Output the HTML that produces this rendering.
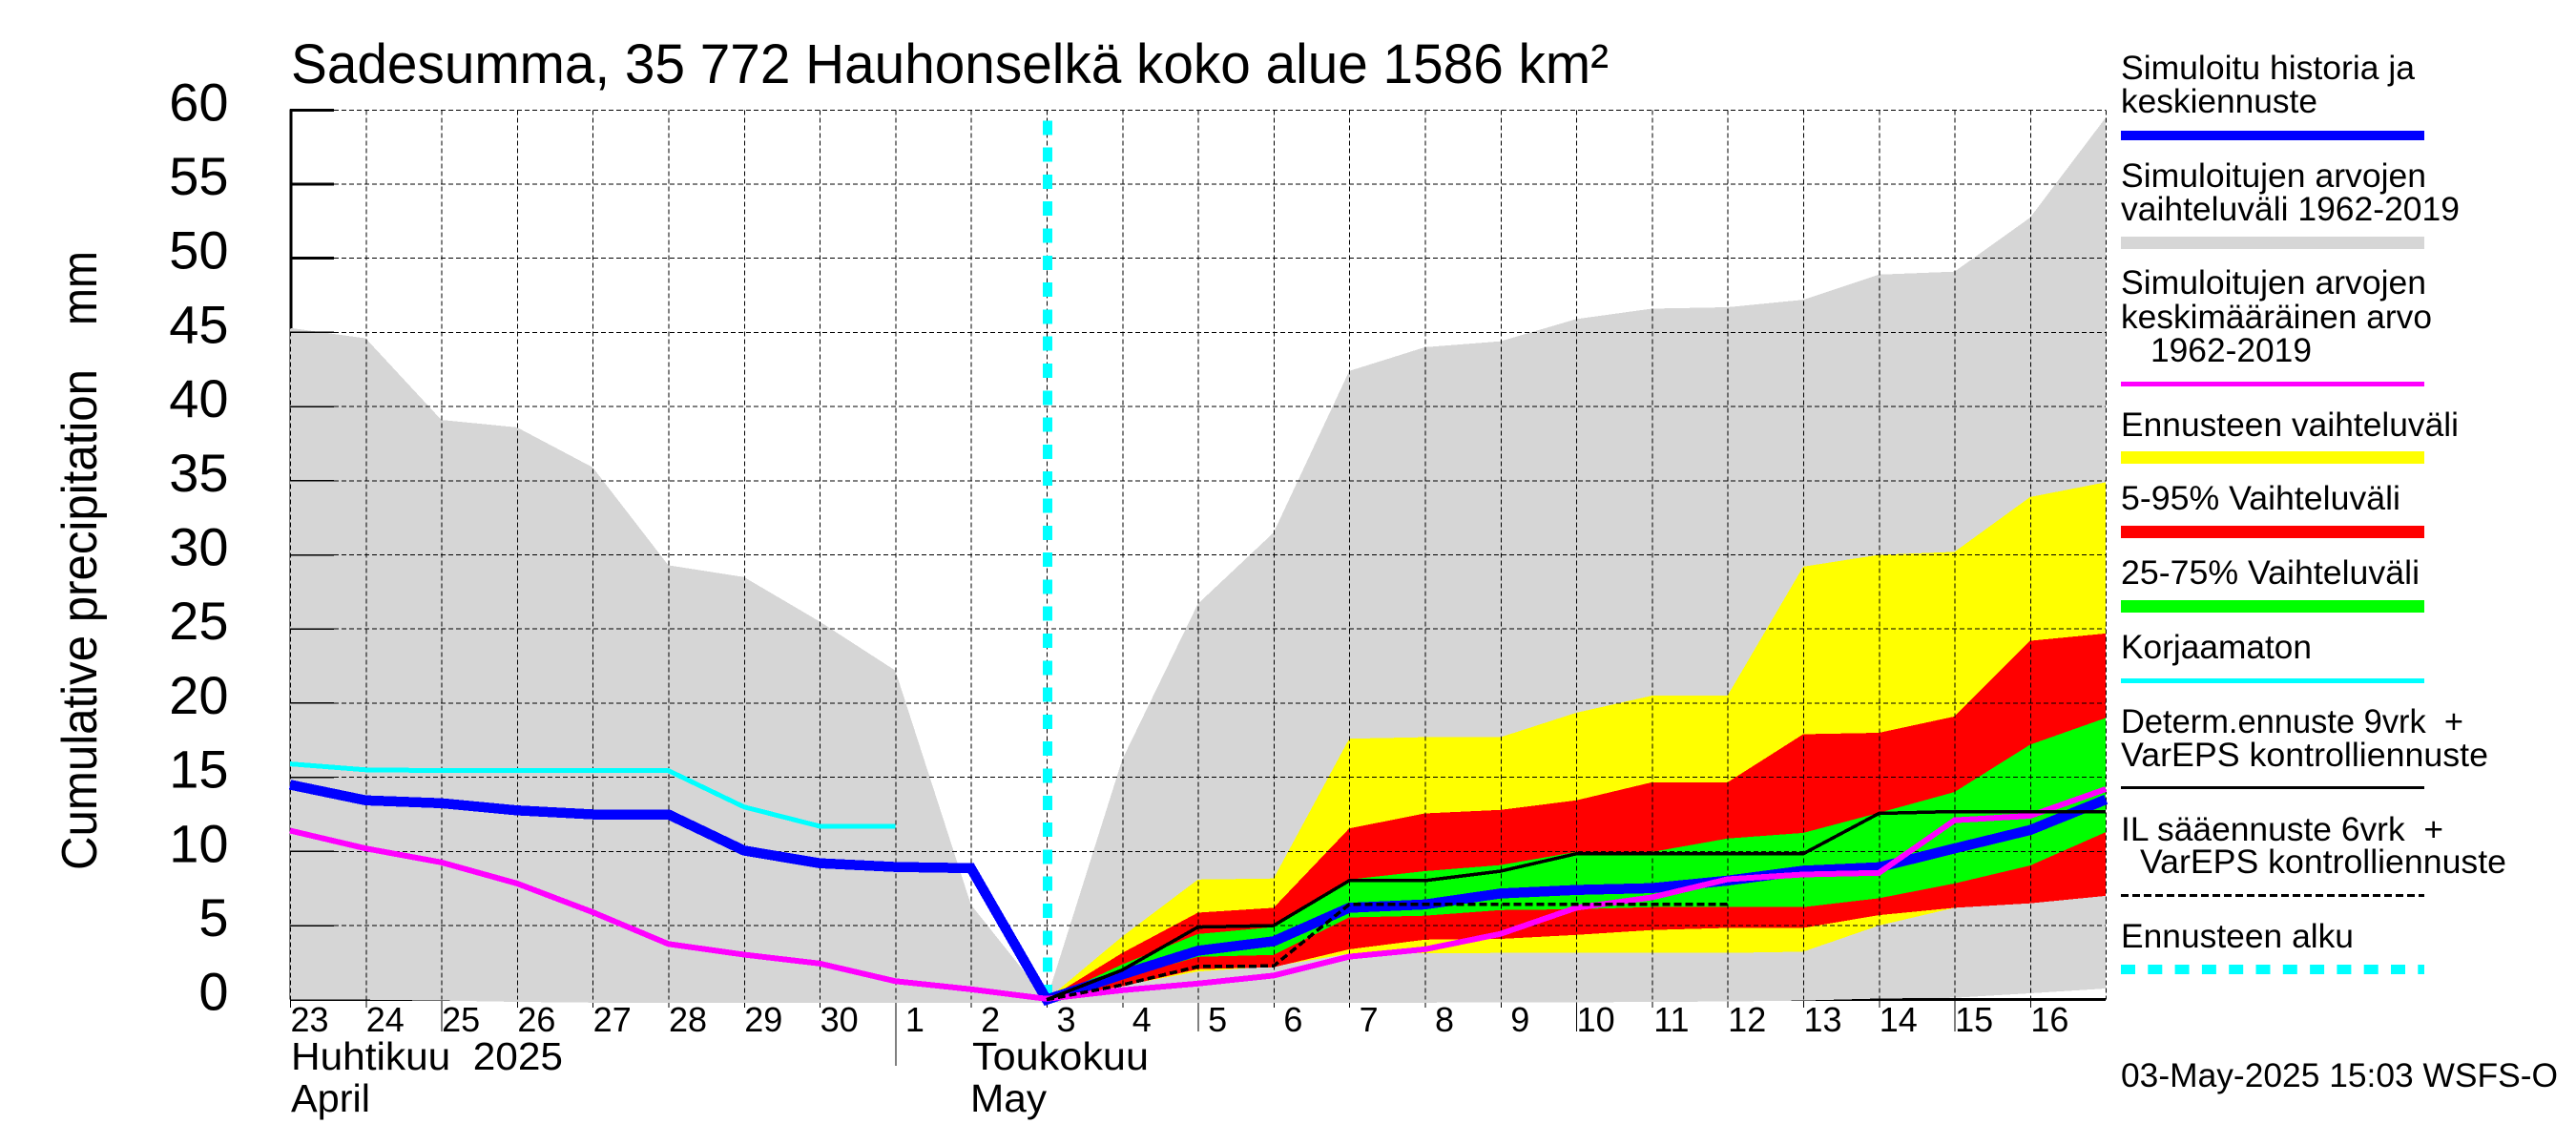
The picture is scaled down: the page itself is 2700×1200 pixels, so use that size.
<!DOCTYPE html>
<html>
<head>
<meta charset="utf-8">
<title>Sadesumma chart</title>
<style>
html,body{margin:0;padding:0;background:#fff;}
svg{display:block;}
text{font-family:"Liberation Sans",Arial,sans-serif;fill:#000;white-space:pre;}
.leg{font-size:35px;}
</style>
</head>
<body>
<svg id="chart" xmlns="http://www.w3.org/2000/svg" width="2700" height="1200" viewBox="0 0 2700 1200">
<rect x="0" y="0" width="2700" height="1200" fill="#fff"/>
<g id="plot"></g>
<text x="305" y="87" font-size="58" textLength="1381" lengthAdjust="spacingAndGlyphs">Sadesumma, 35 772 Hauhonselkä koko alue 1586 km²</text>
<text transform="translate(101,912) rotate(-90)" font-size="52" textLength="525" lengthAdjust="spacingAndGlyphs">Cumulative precipitation</text>
<text transform="translate(101,341) rotate(-90)" font-size="52" textLength="78" lengthAdjust="spacingAndGlyphs">mm</text>
<text x="305" y="1121" font-size="41" textLength="285" lengthAdjust="spacingAndGlyphs">Huhtikuu  2025</text>
<text x="305" y="1165" font-size="41" textLength="83" lengthAdjust="spacingAndGlyphs">April</text>
<text x="1019" y="1121" font-size="41" textLength="185" lengthAdjust="spacingAndGlyphs">Toukokuu</text>
<text x="1017" y="1165" font-size="41" textLength="80" lengthAdjust="spacingAndGlyphs">May</text>

<g>
<text class="leg" x="2223" y="83" textLength="308" lengthAdjust="spacingAndGlyphs">Simuloitu historia ja</text>
<text class="leg" x="2223" y="118" textLength="206" lengthAdjust="spacingAndGlyphs">keskiennuste</text>
<rect x="2223" y="137" width="318" height="10" fill="#0000ff"/>

<text class="leg" x="2223" y="196" textLength="320" lengthAdjust="spacingAndGlyphs">Simuloitujen arvojen</text>
<text class="leg" x="2223" y="231" textLength="355" lengthAdjust="spacingAndGlyphs">vaihteluväli 1962-2019</text>
<rect x="2223" y="248" width="318" height="13" fill="#d6d6d6"/>

<text class="leg" x="2223" y="308" textLength="320" lengthAdjust="spacingAndGlyphs">Simuloitujen arvojen</text>
<text class="leg" x="2223" y="344" textLength="326" lengthAdjust="spacingAndGlyphs">keskimääräinen arvo</text>
<text class="leg" x="2254" y="379" textLength="169" lengthAdjust="spacingAndGlyphs">1962-2019</text>
<rect x="2223" y="400" width="318" height="5" fill="#ff00ff"/>

<text class="leg" x="2223" y="457" textLength="354" lengthAdjust="spacingAndGlyphs">Ennusteen vaihteluväli</text>
<rect x="2223" y="473" width="318" height="13" fill="#ffff00"/>

<text class="leg" x="2223" y="534" textLength="293" lengthAdjust="spacingAndGlyphs">5-95% Vaihteluväli</text>
<rect x="2223" y="551" width="318" height="13" fill="#ff0000"/>

<text class="leg" x="2223" y="612" textLength="313" lengthAdjust="spacingAndGlyphs">25-75% Vaihteluväli</text>
<rect x="2223" y="629" width="318" height="13" fill="#00ff00"/>

<text class="leg" x="2223" y="690" textLength="200" lengthAdjust="spacingAndGlyphs">Korjaamaton</text>
<rect x="2223" y="711" width="318" height="5" fill="#00ffff"/>

<text class="leg" x="2223" y="768" textLength="359" lengthAdjust="spacingAndGlyphs">Determ.ennuste 9vrk  +</text>
<text class="leg" x="2223" y="803" textLength="385" lengthAdjust="spacingAndGlyphs">VarEPS kontrolliennuste</text>
<rect x="2223" y="824" width="318" height="3" fill="#000"/>

<text class="leg" x="2223" y="881" textLength="338" lengthAdjust="spacingAndGlyphs">IL sääennuste 6vrk  +</text>
<text class="leg" x="2243" y="915" textLength="384" lengthAdjust="spacingAndGlyphs">VarEPS kontrolliennuste</text>
<line x1="2223" y1="938.5" x2="2541" y2="938.5" stroke="#000" stroke-width="3" stroke-dasharray="8 4"/>

<text class="leg" x="2223" y="993" textLength="244" lengthAdjust="spacingAndGlyphs">Ennusteen alku</text>
<line x1="2223" y1="1016" x2="2541" y2="1016" stroke="#00ffff" stroke-width="10" stroke-dasharray="15 13.3"/>

<text class="leg" x="2223" y="1139" textLength="458" lengthAdjust="spacingAndGlyphs">03-May-2025 15:03 WSFS-O</text>
</g>
</svg>

<script>
// ---- chart data (mm) ----
const dayLabels = ['23','24','25','26','27','28','29','30','1','2','3','4','5','6','7','8','9','10','11','12','13','14','15','16'];
const yTickLabels = [0,5,10,15,20,25,30,35,40,45,50,55,60];
const longTickLabels = ['25','5','10','15'];
const monthTickLabel = '1';
const forecastStartIndex = 10;

const rangeMax = [45.3,44.6,39.1,38.6,35.9,29.3,28.5,25.5,22.2,6.4,0,16.2,26.7,31.5,42.4,44.0,44.4,45.9,46.6,46.7,47.2,48.9,49.1,52.75,59.5];
const rangeMin = [0,0,-0.06,-0.15,-0.2,-0.2,-0.2,-0.2,-0.2,-0.2,-0.2,-0.2,-0.2,-0.2,-0.2,-0.2,-0.18,-0.18,-0.15,-0.12,-0.06,0.08,0.13,0.43,0.75];

// forecast series start at the forecast-start day (index 10)
const yellowMax = [0,4.26,8.1,8.17,17.6,17.7,17.7,19.35,20.5,20.5,29.2,30.0,30.2,33.9,34.9];
const yellowMin = [0,0.95,1.9,2.25,3.1,3.13,3.15,3.15,3.15,3.15,3.24,5.0,6.2,6.5,7.0];
const redMax = [0,3.15,5.87,6.2,11.55,12.56,12.8,13.44,14.66,14.66,17.9,18.0,19.1,24.2,24.7];
const redMin = [0,0.9,2.06,2.19,3.4,4.05,4.1,4.37,4.7,4.84,4.84,5.7,6.2,6.5,7.0];
const greenMax = [0,2.38,4.43,4.9,8.1,8.67,9.08,9.96,9.96,10.87,11.25,12.6,14.0,17.2,19.0];
const greenMin = [0,1.45,2.89,3.02,5.55,5.66,6.04,6.1,6.24,6.24,6.24,6.84,7.84,9.05,11.3];

const blueSeries = [14.5,13.44,13.25,12.77,12.5,12.5,10.06,9.2,8.95,8.87,0,1.7,3.3,3.94,6.2,6.42,7.16,7.4,7.52,8.03,8.7,8.93,10.2,11.44,13.5];
const meanSeries = [11.4,10.2,9.26,7.84,5.9,3.76,3.04,2.44,1.25,0.7,0.06,0.64,1.09,1.63,2.9,3.4,4.44,6.2,6.9,8.12,8.44,8.55,12.1,12.4,14.2];
const uncorrectedSeries = [15.9,15.5,15.45,15.45,15.45,15.45,13.0,11.7,11.7];
const determSeries = [0,2.0,4.9,5.0,8.03,8.03,8.67,9.84,9.84,9.84,9.84,12.56,12.69,12.69,12.69];
const ilSeries = [0,1.0,2.24,2.27,6.42,6.42,6.42,6.42,6.42,6.42];

// ---- axis functions ----
function xAt(i){ return 304 + 79.3 * i; }
function yAt(v){ return 1047.7 - 15.54 * v; }

const NS = 'http://www.w3.org/2000/svg';
const plot = document.getElementById('plot');
function mk(tag, attrs){
  const e = document.createElementNS(NS, tag);
  for (const k in attrs) e.setAttribute(k, attrs[k]);
  plot.appendChild(e);
  return e;
}
function pts(values, offset){
  return values.map(function(v, j){ return xAt(j + offset).toFixed(1) + ',' + yAt(v).toFixed(1); });
}
function band(upper, lower, offset){
  return pts(upper, offset).concat(pts(lower, offset).reverse()).join(' ');
}
const plotRight = xAt(dayLabels.length);
const xTop = yAt(60), xBase = yAt(0);
let el;

// baseline, y axis and stubs beneath the range polygon
el = mk('line', {x1: xAt(0), y1: xBase, x2: plotRight, y2: xBase, stroke: '#000', 'stroke-width': 3, 'shape-rendering': 'crispEdges'});


el = mk('line', {x1: xAt(0) + 1, y1: xTop - 1, x2: xAt(0) + 1, y2: xBase, stroke: '#000', 'stroke-width': 3, 'shape-rendering': 'crispEdges'});



dayLabels.forEach(function(lab, i){
  let end = 1056;
  if (longTickLabels.indexOf(lab) >= 0) end = 1081;
  if (lab === monthTickLabel) end = 1117;
  const t = mk('line', {x1: xAt(i) + 0.5, y1: xBase, x2: xAt(i) + 0.5, y2: end, stroke: '#000', 'stroke-width': 1, 'shape-rendering': 'crispEdges'});
  
  
  const l = mk('text', {x: xAt(i) + 20.5, y: 1081, 'font-size': 36, 'text-anchor': 'middle'});
  
  
  l.textContent = lab;
});

// range polygon
el = mk('polygon', {points: band(rangeMax, rangeMin, 0), fill: '#d6d6d6', 'shape-rendering': 'crispEdges'});



// forecast bands
el = mk('polygon', {points: band(yellowMax, yellowMin, forecastStartIndex), fill: '#ffff00', 'shape-rendering': 'crispEdges'});


el = mk('polygon', {points: band(redMax, redMin, forecastStartIndex), fill: '#ff0000', 'shape-rendering': 'crispEdges'});


el = mk('polygon', {points: band(greenMax, greenMin, forecastStartIndex), fill: '#00ff00', 'shape-rendering': 'crispEdges'});



// grid
yTickLabels.forEach(function(v){
  if (v > 0) {
    const g = mk('line', {x1: 350, y1: yAt(v), x2: plotRight, y2: yAt(v), stroke: '#000', 'stroke-width': 1, 'stroke-dasharray': '5 3', 'shape-rendering': 'crispEdges'});
    
    
    const thick = v > rangeMax[0];
    const t = mk('line', {x1: xAt(0), y1: yAt(v), x2: 350, y2: yAt(v), stroke: '#000', 'stroke-width': thick ? 3 : 1.5, 'shape-rendering': 'crispEdges'});
    
    
  }
  const l = mk('text', {x: 239.5, y: yAt(v) + 11, 'font-size': 56, 'text-anchor': 'end'});
  
  
  l.textContent = String(v);
});
for (let i = 0; i <= dayLabels.length; i++) {
  const g = mk('line', {x1: xAt(i) + 0.5, y1: xTop, x2: xAt(i) + 0.5, y2: xBase, stroke: '#000', 'stroke-width': 1, 'stroke-dasharray': '5 3', 'shape-rendering': 'crispEdges'});
  
  
}

// forecast start marker (above the grid, beneath the series lines)
el = mk('line', {x1: xAt(forecastStartIndex) + 1, y1: 126.3, x2: xAt(forecastStartIndex) + 1, y2: 1048, stroke: '#00ffff', 'stroke-width': 10, 'stroke-dasharray': '15 13.3', 'shape-rendering': 'crispEdges'});



// series lines
el = mk('polyline', {points: pts(uncorrectedSeries, 0).join(' '), fill: 'none', stroke: '#00ffff', 'stroke-width': 5, 'shape-rendering': 'crispEdges'});


el = mk('polyline', {points: pts(blueSeries, 0).join(' '), fill: 'none', stroke: '#0000ff', 'stroke-width': 10.5, 'shape-rendering': 'crispEdges'});


el = mk('polyline', {points: pts(meanSeries, 0).join(' '), fill: 'none', stroke: '#ff00ff', 'stroke-width': 6, 'shape-rendering': 'crispEdges'});


el = mk('polyline', {points: pts(ilSeries, forecastStartIndex).join(' '), fill: 'none', stroke: '#000', 'stroke-width': 3.5, 'stroke-dasharray': '8 4', 'shape-rendering': 'crispEdges'});


el = mk('polyline', {points: pts(determSeries, forecastStartIndex).join(' '), fill: 'none', stroke: '#000', 'stroke-width': 3.5, 'shape-rendering': 'crispEdges'});


</script>
</body>
</html>
